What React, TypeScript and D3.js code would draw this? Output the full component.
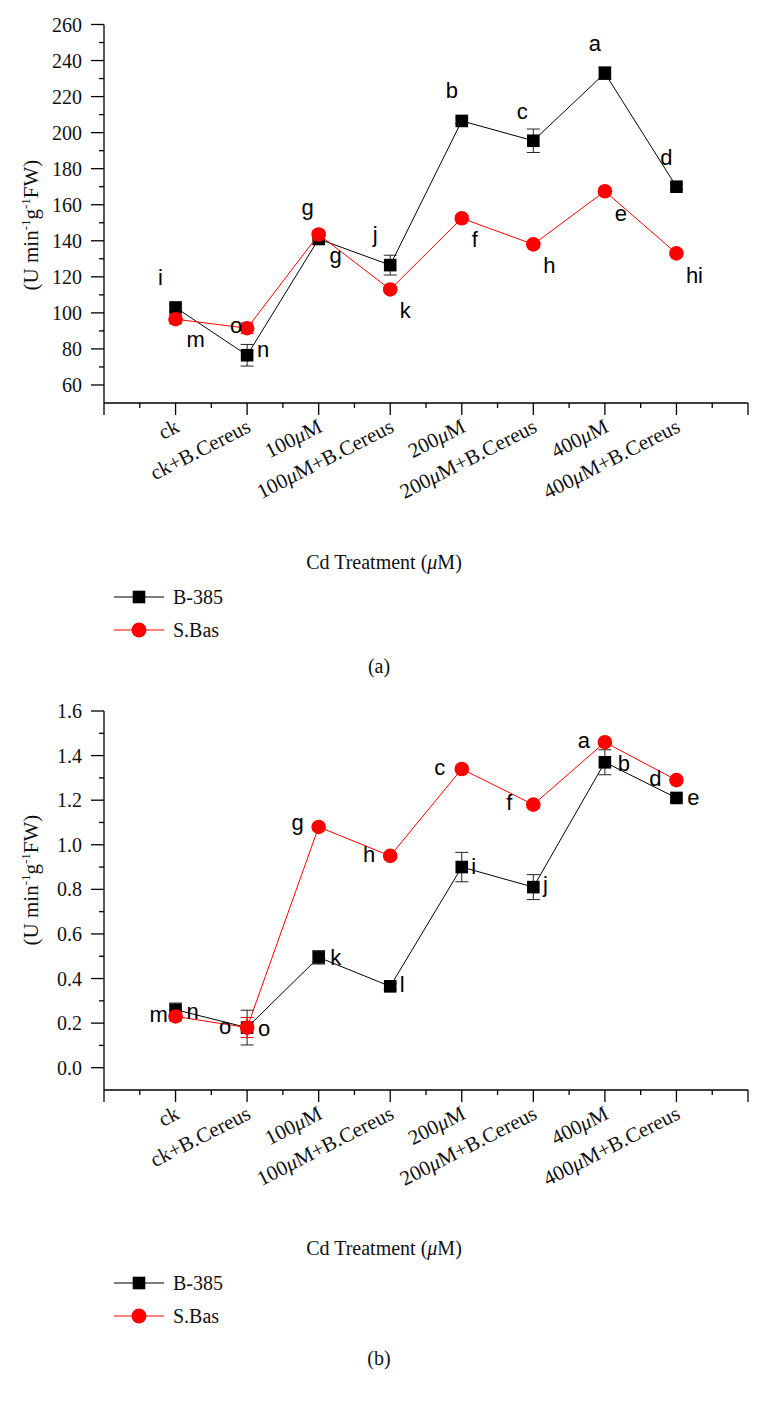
import React from "react";
import * as d3 from "d3";

// ---------- data ----------
const categories = [
  "ck",
  "ck+B.Cereus",
  "100μM",
  "100μM+B.Cereus",
  "200μM",
  "200μM+B.Cereus",
  "400μM",
  "400μM+B.Cereus",
];
const seriesNames = ["B-385", "S.Bas"];

// panel (a)
const aB385 = [103, 76.5, 141, 126.5, 206.5, 195.5, 233, 170];
const aB385Err = [2, 6, 2, 5.5, 1.5, 6.5, 3.5, 1.5];
const aSBas = [96.5, 91.5, 143.5, 113, 152.5, 138, 167.5, 133];
const aSBasErr = [2.5, 3, 2, 1.5, 1.5, 1.5, 1.5, 1.5];
const aB385Letters = ["i", "n", "g", "j", "b", "c", "a", "d"];
const aSBasLetters = ["m", "o", "g", "k", "f", "h", "e", "hi"];
const aYTicks = [60, 80, 100, 120, 140, 160, 180, 200, 220, 240, 260];
const aYMinor = [70, 90, 110, 130, 150, 170, 190, 210, 230, 250];

// panel (b)
const bB385 = [0.26, 0.18, 0.495, 0.365, 0.9, 0.81, 1.37, 1.21];
const bB385Err = [0.03, 0.078, 0.03, 0.015, 0.066, 0.056, 0.056, 0.015];
const bSBas = [0.23, 0.18, 1.08, 0.95, 1.34, 1.18, 1.46, 1.29];
const bSBasErr = [0.02, 0.045, 0.01, 0.01, 0.01, 0.01, 0.012, 0.01];
const bB385Letters = ["n", "o", "k", "l", "i", "j", "b", "e"];
const bSBasLetters = ["m", "o", "g", "h", "c", "f", "a", "d"];
const bYTicks = [0, 0.2, 0.4, 0.6, 0.8, 1.0, 1.2, 1.4, 1.6];
const bYMinor = [0.1, 0.3, 0.5, 0.7, 0.9, 1.1, 1.3, 1.5];

const xMajor = [0, 1, 2, 3, 4, 5, 6, 7, 8, 9];
const xMinor = [0.5, 1.5, 2.5, 3.5, 4.5, 5.5, 6.5, 7.5, 8.5];

// ---------- layout (pixel offsets for the letter annotations) ----------
const aB385Off: [number, number][] = [
  [-15, -22], [16, 2], [-11, -24], [-15, -23], [-10, -23], [-11, -22], [-10, -22], [-10, -22],
];
const aSBasOff: [number, number][] = [
  [20, 28], [-11, 5], [17, 29], [15, 29], [13, 29], [16, 29], [16, 30], [18, 30],
];
const bB385Off: [number, number][] = [
  [17, 9], [17, 8], [17, 8], [12, 6], [12, 7], [12, 5], [19, 9], [17, 7],
];
const bSBasOff: [number, number][] = [
  [-17, 6], [-22, 6], [-21, 3], [-21, 6], [-22, 6], [-24, 5], [-21, 6], [-21, 6],
];

const SERIF = "'Liberation Serif', 'DejaVu Serif', serif";
const SANS = "'Liberation Sans', Arial, sans-serif";
const RED = "#ff0000";

const X0 = 104;
const X1 = 748;

function CatLabel({ text }: { text: string }) {
  const parts = text.split("μ");
  return (
    <>
      {parts.map((p, i) => (
        <React.Fragment key={i}>
          {i > 0 && <tspan fontStyle="italic">μ</tspan>}
          {p && <tspan>{p}</tspan>}
        </React.Fragment>
      ))}
    </>
  );
}

type PanelProps = {
  top: number;
  bottom: number;
  yDomain: [number, number];
  yTicks: number[];
  yMinor: number[];
  fmt: (v: number) => string;
  b: number[];
  bErr: number[];
  s: number[];
  sErr: number[];
  bLetters: string[];
  sLetters: string[];
  bOff: [number, number][];
  sOff: [number, number][];
  titleCY: number;
  xTitleY: number;
  legendY: number;
  panelLabel: string;
  panelLabelY: number;
};

function Panel(p: PanelProps) {
  const x = d3.scaleLinear().domain([0, 9]).range([X0, X1]);
  const y = d3.scaleLinear().domain(p.yDomain).range([p.bottom, p.top]);
  const line = d3
    .line<number>()
    .x((_, i) => x(i + 1))
    .y((v) => y(v));
  const capW = 6.5;

  const renderSeries = (
    vals: number[],
    errs: number[],
    color: string,
    errColor: string,
    kind: "square" | "circle"
  ) => (
    <g>
      <path d={line(vals) || ""} fill="none" stroke={color} strokeWidth={1} />
      {vals.map((v, i) => {
        const cx = x(i + 1);
        const y1 = y(v + errs[i]);
        const y2 = y(v - errs[i]);
        return (
          <g key={"e" + i} stroke={errColor} strokeWidth={1}>
            <line x1={cx} x2={cx} y1={y1} y2={y2} />
            <line x1={cx - capW} x2={cx + capW} y1={y1} y2={y1} />
            <line x1={cx - capW} x2={cx + capW} y1={y2} y2={y2} />
          </g>
        );
      })}
      {vals.map((v, i) =>
        kind === "square" ? (
          <rect key={"m" + i} x={x(i + 1) - 6.3} y={y(v) - 6.3} width={12.6} height={12.6} fill={color} />
        ) : (
          <circle key={"m" + i} cx={x(i + 1)} cy={y(v)} r={7.3} fill={color} />
        )
      )}
    </g>
  );

  const letters = (vals: number[], labs: string[], off: [number, number][]) =>
    labs.map((l, i) => (
      <text
        key={"l" + i}
        x={x(i + 1) + off[i][0]}
        y={y(vals[i]) + off[i][1]}
        textAnchor="middle"
        fontFamily={SANS}
        fontSize={22}
        fill="#000"
      >
        {l}
      </text>
    ));

  return (
    <g>
      {/* y axis */}
      <line x1={X0} x2={X0} y1={p.top} y2={p.bottom} stroke="#000" strokeWidth={1.3} />
      {p.yTicks.map((t) => (
        <g key={"yt" + t}>
          <line x1={X0 - 13} x2={X0} y1={y(t)} y2={y(t)} stroke="#000" strokeWidth={1.3} />
          <text
            x={X0 - 22}
            y={y(t)}
            dy="0.35em"
            textAnchor="end"
            fontFamily={SERIF}
            fontSize={20}
            fill="#111"
          >
            {p.fmt(t)}
          </text>
        </g>
      ))}
      {p.yMinor.map((t) => (
        <line key={"ym" + t} x1={X0 - 5} x2={X0} y1={y(t)} y2={y(t)} stroke="#000" strokeWidth={1.3} />
      ))}
      {/* x axis */}
      <line x1={X0} x2={X1} y1={p.bottom} y2={p.bottom} stroke="#000" strokeWidth={1.3} />
      {xMajor.map((t) => (
        <line key={"xt" + t} x1={x(t)} x2={x(t)} y1={p.bottom} y2={p.bottom + 12} stroke="#000" strokeWidth={1.3} />
      ))}
      {xMinor.map((t) => (
        <line key={"xm" + t} x1={x(t)} x2={x(t)} y1={p.bottom} y2={p.bottom + 5} stroke="#000" strokeWidth={1.3} />
      ))}
      {categories.map((c, i) => (
        <text
          key={"xl" + i}
          transform={`translate(${x(i + 1) + 5},${p.bottom + 28}) rotate(-27)`}
          textAnchor="end"
          fontFamily={SERIF}
          fontSize={21}
          fill="#111"
        >
          <CatLabel text={c} />
        </text>
      ))}
      {/* y title */}
      <text
        transform={`translate(38,${p.titleCY}) rotate(-90)`}
        textAnchor="middle"
        fontFamily={SERIF}
        fontSize={21}
        fill="#111"
      >
        <tspan>(U min</tspan>
        <tspan fontSize={13} dy={-8}>-1</tspan>
        <tspan dy={8}>g</tspan>
        <tspan fontSize={13} dy={-8}>-1</tspan>
        <tspan dy={8}>FW)</tspan>
      </text>
      {/* x title */}
      <text x={384} y={p.xTitleY} textAnchor="middle" fontFamily={SERIF} fontSize={20} fill="#111">
        <tspan>Cd Treatment (</tspan>
        <tspan fontStyle="italic">μ</tspan>
        <tspan>M)</tspan>
      </text>
      {/* series */}
      {renderSeries(p.b, p.bErr, "#000", "#222", "square")}
      {renderSeries(p.s, p.sErr, RED, RED, "circle")}
      {letters(p.b, p.bLetters, p.bOff)}
      {letters(p.s, p.sLetters, p.sOff)}
      {/* legend */}
      {seriesNames.map((n, i) => {
        const ly = p.legendY + i * 33;
        const color = i === 0 ? "#000" : RED;
        return (
          <g key={"lg" + i}>
            <line x1={114} x2={164} y1={ly} y2={ly} stroke={color} strokeWidth={1.2} />
            {i === 0 ? (
              <rect x={139 - 6.3} y={ly - 6.3} width={12.6} height={12.6} fill={color} />
            ) : (
              <circle cx={139} cy={ly} r={7.5} fill={color} />
            )}
            <text x={173} y={ly} dy="0.35em" fontFamily={SERIF} fontSize={20} fill="#111">
              {n}
            </text>
          </g>
        );
      })}
      <text x={379} y={p.panelLabelY} textAnchor="middle" fontFamily={SERIF} fontSize={20} fill="#111">
        {p.panelLabel}
      </text>
    </g>
  );
}

export default function App() {
  return (
    <svg
      width={766}
      height={1402}
      viewBox="0 0 766 1402"
      style={{ position: "absolute", left: 0, top: 0, background: "#fff" }}
    >
      <rect x={0} y={0} width={766} height={1402} fill="#fff" />
      <Panel
        top={24.5}
        bottom={403}
        yDomain={[50, 260]}
        yTicks={aYTicks}
        yMinor={aYMinor}
        fmt={(v) => String(v)}
        b={aB385}
        bErr={aB385Err}
        s={aSBas}
        sErr={aSBasErr}
        bLetters={aB385Letters}
        sLetters={aSBasLetters}
        bOff={aB385Off}
        sOff={aSBasOff}
        titleCY={225}
        xTitleY={569}
        legendY={597}
        panelLabel="(a)"
        panelLabelY={673}
      />
      <Panel
        top={711}
        bottom={1090}
        yDomain={[-0.1, 1.6]}
        yTicks={bYTicks}
        yMinor={bYMinor}
        fmt={d3.format(".1f")}
        b={bB385}
        bErr={bB385Err}
        s={bSBas}
        sErr={bSBasErr}
        bLetters={bB385Letters}
        sLetters={bSBasLetters}
        bOff={bB385Off}
        sOff={bSBasOff}
        titleCY={880}
        xTitleY={1255}
        legendY={1283}
        panelLabel="(b)"
        panelLabelY={1365}
      />
    </svg>
  );
}
